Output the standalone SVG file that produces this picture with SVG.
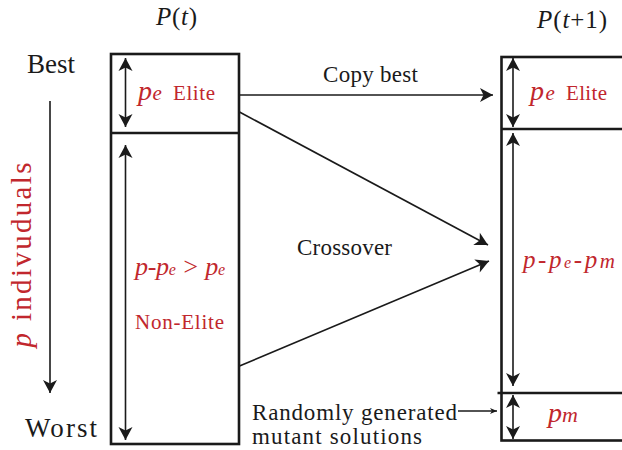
<svg xmlns="http://www.w3.org/2000/svg" width="622" height="450" viewBox="0 0 622 450">
<style>
.t{font-family:"Liberation Serif","Times New Roman",serif;fill:#1a1a1a}
.r{font-family:"Liberation Serif","Times New Roman",serif;fill:#c1272d}
.i{font-style:italic}
.box{fill:none;stroke:#1a1a1a;stroke-width:2.6}
.div{stroke:#1a1a1a;stroke-width:2.6}
.ar{stroke:#1a1a1a;stroke-width:1.6;fill:none}
.dbl{stroke:#1a1a1a;stroke-width:1.6;fill:none;marker-start:url(#ah);marker-end:url(#ah)}
</style>
<defs>
<marker id="ah" viewBox="-14 -8 15 16" refX="0" refY="0" markerWidth="15" markerHeight="16" markerUnits="userSpaceOnUse" orient="auto-start-reverse">
<path d="M0,0 L-13,-7 L-9.5,0 L-13,7 Z" fill="#1a1a1a"/>
</marker>
<marker id="ahs" viewBox="-8 -4 9 8" refX="0" refY="0" markerWidth="9" markerHeight="8" markerUnits="userSpaceOnUse" orient="auto">
<path d="M0,0 L-7,-3 L-5,0 L-7,3 Z" fill="#1a1a1a"/>
</marker>
</defs>

<g id="titles">
<text class="t" x="156" y="25" font-size="25" textLength="41"><tspan class="i">P</tspan>(<tspan class="i">t</tspan>)</text>
<text class="t" x="537" y="28" font-size="25" textLength="70"><tspan class="i">P</tspan>(<tspan class="i">t</tspan>+1)</text>
</g>

<g id="rank-axis">
<text class="t" x="27" y="73" font-size="27" textLength="48">Best</text>
<text class="t" x="25" y="437" font-size="27" textLength="72">Worst</text>
<text class="r" transform="translate(31,255) rotate(-90)" text-anchor="middle" font-size="29" textLength="185"><tspan class="i">p</tspan> indivuduals</text>
</g>

<g id="population-t">
<rect class="box" x="111" y="54" width="128" height="390"/>
<line class="div" x1="111" y1="133" x2="239" y2="133"/>
<line class="dbl" x1="125.5" y1="58" x2="125.5" y2="127"/>
<line class="dbl" x1="125.5" y1="145" x2="125.5" y2="440"/>
<text class="r i" x="138" y="100" font-size="28">p</text>
<text class="r i" x="152.5" y="100" font-size="21">e</text>
<text class="r" x="173" y="100" font-size="21" textLength="42">Elite</text>
<text class="r i" x="135" y="275" font-size="26" textLength="90">p-p<tspan font-size="16">e</tspan> &gt; p<tspan font-size="16">e</tspan></text>
<text class="r" x="135" y="329" font-size="21" textLength="89">Non-Elite</text>
</g>

<g id="population-t1">
<rect class="box" x="501.5" y="57" width="200" height="383.5"/>
<line class="div" x1="501.5" y1="129" x2="640" y2="129"/>
<line class="div" x1="497.5" y1="393" x2="640" y2="393"/>
<line class="dbl" x1="513" y1="58" x2="513" y2="127"/>
<line class="dbl" x1="513" y1="133" x2="513" y2="386"/>
<line class="dbl" x1="513" y1="395" x2="513" y2="439"/>
<text class="r i" x="530" y="100" font-size="28">p</text>
<text class="r i" x="545.5" y="100" font-size="21">e</text>
<text class="r" x="566" y="100" font-size="21" textLength="41">Elite</text>
<text class="r i" x="523" y="268" font-size="25" textLength="92">p-p<tspan font-size="16">e</tspan>-p<tspan font-size="21">m</tspan></text>
<text class="r i" x="548" y="422" font-size="28">p<tspan font-size="22">m</tspan></text>
</g>

<g id="connectors">
<line class="ar" x1="50" y1="101" x2="50" y2="393" marker-end="url(#ah)"/>
<line class="ar" x1="240" y1="95" x2="493" y2="95" marker-end="url(#ah)"/>
<line class="ar" x1="239.5" y1="112" x2="488" y2="245" marker-end="url(#ah)"/>
<line class="ar" x1="239.5" y1="366" x2="489" y2="261" marker-end="url(#ah)"/>
<line class="ar" x1="458" y1="411" x2="497" y2="411" stroke-width="1" marker-end="url(#ahs)"/>
</g>

<g id="labels">
<text class="t" x="323" y="82" font-size="23" textLength="95">Copy best</text>
<text class="t" x="297" y="255" font-size="23" textLength="95">Crossover</text>
<text class="t" x="252" y="420" font-size="23" textLength="205">Randomly generated</text>
<text class="t" x="252" y="444" font-size="23" textLength="170">mutant solutions</text>
</g>
</svg>
